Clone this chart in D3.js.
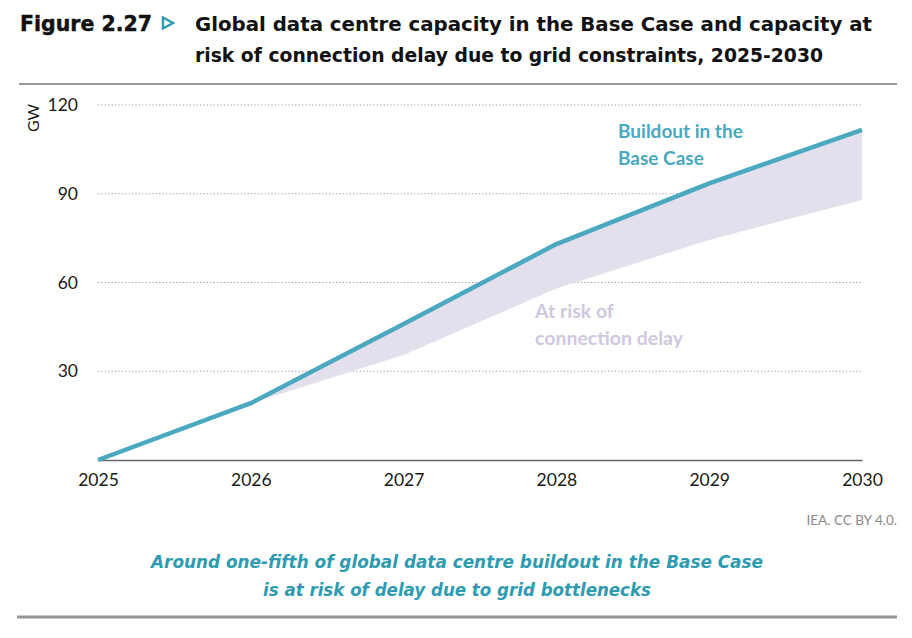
<!DOCTYPE html>
<html>
<head>
<meta charset="utf-8">
<script src="https://cdn.jsdelivr.net/npm/d3@7"></script>
<style>
  body { margin: 0; background: #fff; }
  text { font-family: Lato, "Open Sans", sans-serif; }
</style>
</head>
<body>
<script>
var years = [2025, 2026, 2027, 2028, 2029, 2030];
var baseCase = [0, 19.2, 46, 73, 93.5, 111.6];       // GW, buildout in the Base Case
var lowerBound = [0, 19.2, 35.5, 58, 74.4, 87.9];    // GW, capacity not at risk
var yTicks = [30, 60, 90, 120];

function draw() {
    var width = 912, height = 638;
    var svg = d3.select("body")
        .append("svg")
        .attr("width", width)
        .attr("height", height);

    var x = d3.scaleLinear().domain([2025, 2030]).range([98, 862]);
    var y = d3.scaleLinear().domain([0, 120]).range([460, 105]);

    // title
    svg.append("text")
        .attr("x", 20).attr("y", 31)
        .style("font-family", "'DejaVu Sans', sans-serif")
        .style("font-weight", "bold")
        .style("font-size", "21px")
        .attr("textLength", 132).attr("lengthAdjust", "spacingAndGlyphs")
        .attr("fill", "#111")
        .attr("stroke", "#111").attr("stroke-width", 0.45)
        .text("Figure 2.27");
    svg.append("path")
        .attr("d", "M163,17.5 L173,23 L163,28.5 Z")
        .attr("fill", "none")
        .attr("stroke", "#2f9bb3")
        .attr("stroke-width", 2.4);
    var titleLines = ["Global data centre capacity in the Base Case and capacity at",
                      "risk of connection delay due to grid constraints, 2025-2030"];
    var titleLens = [677, 628];
    titleLines.forEach(function (t, i) {
        svg.append("text")
            .attr("x", 195).attr("y", 31 + i * 31)
            .style("font-family", "'DejaVu Sans', sans-serif")
            .style("font-weight", "bold")
            .style("font-size", "19px")
            .attr("textLength", titleLens[i]).attr("lengthAdjust", "spacingAndGlyphs")
            .attr("fill", "#111")
            .text(t);
    });

    svg.append("line")
        .attr("x1", 19).attr("x2", 897).attr("y1", 84).attr("y2", 84)
        .attr("stroke", "#9a9a9a").attr("stroke-width", 2);

    // gridlines
    svg.selectAll(".grid")
        .data(yTicks)
        .enter().append("line")
        .attr("class", "grid")
        .attr("x1", x(2025)).attr("x2", x(2030))
        .attr("y1", function (d) { return y(d); })
        .attr("y2", function (d) { return y(d); })
        .attr("stroke", "#9a9a9a")
        .attr("stroke-width", 1.2)
        .attr("stroke-dasharray", "1.2,2.2");

    // y axis labels
    var yAxis = d3.axisLeft(y).tickValues(yTicks).tickSize(0).tickPadding(20);
    var gy = svg.append("g").attr("transform", "translate(" + x(2025) + ",0)").call(yAxis);
    gy.select(".domain").remove();
    gy.selectAll("text")
        .style("font-family", "Lato, sans-serif")
        .style("font-size", "17.5px")
        .attr("fill", "#1a1a1a");

    svg.append("text")
        .attr("transform", "translate(39,118) rotate(-90)")
        .attr("text-anchor", "middle")
        .style("font-size", "16px")
        .attr("fill", "#1a1a1a")
        .text("GW");

    // area at risk
    var data = years.map(function (yr, i) {
        return { year: yr, top: baseCase[i], bottom: lowerBound[i] };
    });
    var area = d3.area()
        .x(function (d) { return x(d.year); })
        .y0(function (d) { return y(d.bottom); })
        .y1(function (d) { return y(d.top); });
    svg.append("path")
        .datum(data)
        .attr("d", area)
        .attr("fill", "#e4dfec");

    // x axis
    var xAxis = d3.axisBottom(x).tickValues(years).tickFormat(d3.format("d")).tickSize(0).tickPadding(14);
    var gx = svg.append("g").attr("transform", "translate(0," + y(0) + ")").call(xAxis);
    gx.select(".domain").attr("stroke", "#666").attr("stroke-width", 1.3);
    gx.selectAll("text")
        .style("font-family", "Lato, sans-serif")
        .style("font-size", "17.5px")
        .attr("fill", "#1a1a1a");

    // base case line
    var line = d3.line()
        .x(function (d) { return x(d.year); })
        .y(function (d) { return y(d.top); });
    svg.append("path")
        .datum(data)
        .attr("d", line)
        .attr("fill", "none")
        .attr("stroke", "#4aa8c0")
        .attr("stroke-width", 4.5)
        .attr("stroke-linejoin", "round");

    // annotations
    ["Buildout in the", "Base Case"].forEach(function (t, i) {
        svg.append("text")
            .attr("x", 618).attr("y", 138 + i * 27)
            .style("font-size", "19px").style("font-weight", "bold")
            .attr("fill", "#4aa8c0")
            .text(t);
    });
    ["At risk of", "connection delay"].forEach(function (t, i) {
        svg.append("text")
            .attr("x", 535).attr("y", 318 + i * 27)
            .style("font-size", "19.5px").style("font-weight", "bold")
            .attr("fill", "#d0c8e0")
            .text(t);
    });

    svg.append("text")
        .attr("x", 897).attr("y", 525)
        .attr("text-anchor", "end")
        .style("font-size", "13.5px")
        .attr("fill", "#8a8a8a")
        .text("IEA. CC BY 4.0.");

    // takeaway
    var notes = ["Around one-fifth of global data centre buildout in the Base Case",
                 "is at risk of delay due to grid bottlenecks"];
    var noteLens = [612, 388];
    notes.forEach(function (t, i) {
        svg.append("text")
            .attr("x", 457).attr("y", 568 + i * 28)
            .attr("text-anchor", "middle")
            .style("font-family", "'DejaVu Sans', sans-serif")
            .style("font-style", "italic")
            .style("font-weight", "bold")
            .style("font-size", "18px")
            .attr("textLength", noteLens[i]).attr("lengthAdjust", "spacingAndGlyphs")
            .attr("fill", "#2e9bb0")
            .text(t);
    });

    svg.append("line")
        .attr("x1", 17).attr("x2", 897).attr("y1", 617).attr("y2", 617)
        .attr("stroke", "#959595").attr("stroke-width", 3);
}
draw();
</script>
</body>
</html>
